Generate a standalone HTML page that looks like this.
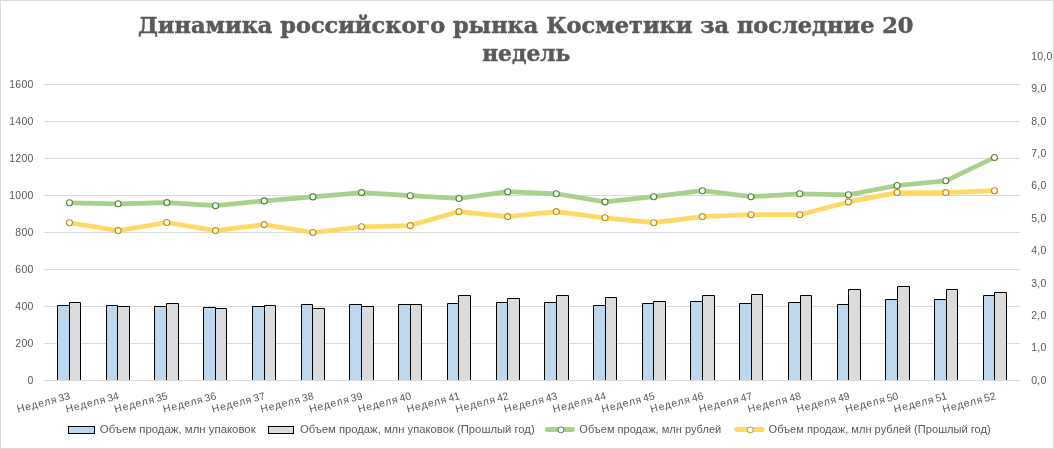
<!DOCTYPE html>
<html lang="ru"><head><meta charset="utf-8">
<title>Динамика российского рынка Косметики</title>
<style>
html,body{margin:0;padding:0;background:#fff;}
body{width:1054px;height:449px;overflow:hidden;}
svg{display:block;}
.ax{font-family:"Liberation Sans", "DejaVu Sans", sans-serif;font-size:10.5px;fill:#595959;filter:grayscale(1);}
.ttl{font-family:"DejaVu Serif", "Liberation Serif", serif;font-weight:bold;font-size:22.5px;fill:#595959;stroke:#595959;stroke-width:0.5px;stroke-linejoin:round;filter:grayscale(1);}
</style></head><body>
<svg width="1054" height="449" viewBox="0 0 1054 449">
<rect x="0" y="0" width="1054" height="449" fill="#ffffff"/>
<rect x="0.5" y="0.5" width="1053" height="448" fill="none" stroke="#d9d9d9" stroke-width="1"/>
<text class="ttl" x="525.7" y="32.7" text-anchor="middle" textLength="775.6" lengthAdjust="spacingAndGlyphs">Динамика российского рынка Косметики за последние 20</text>
<text class="ttl" x="526.3" y="60.8" text-anchor="middle" textLength="88.2" lengthAdjust="spacingAndGlyphs">недель</text>
<g stroke="#d9d9d9" stroke-width="1" shape-rendering="crispEdges">
<line x1="44.0" y1="343.5" x2="1020.0" y2="343.5"/>
<line x1="44.0" y1="306.5" x2="1020.0" y2="306.5"/>
<line x1="44.0" y1="269.5" x2="1020.0" y2="269.5"/>
<line x1="44.0" y1="232.5" x2="1020.0" y2="232.5"/>
<line x1="44.0" y1="195.5" x2="1020.0" y2="195.5"/>
<line x1="44.0" y1="158.5" x2="1020.0" y2="158.5"/>
<line x1="44.0" y1="121.5" x2="1020.0" y2="121.5"/>
<line x1="44.0" y1="84.5" x2="1020.0" y2="84.5"/>
</g>
<g class="ax" text-anchor="end" letter-spacing="0.25">
<text x="33.6" y="384.3">0</text>
<text x="33.6" y="347.3">200</text>
<text x="33.6" y="310.3">400</text>
<text x="33.6" y="273.3">600</text>
<text x="33.6" y="236.3">800</text>
<text x="33.6" y="199.3">1000</text>
<text x="33.6" y="162.3">1200</text>
<text x="33.6" y="125.3">1400</text>
<text x="33.6" y="88.3">1600</text>
</g>
<g class="ax" text-anchor="start" letter-spacing="0.25">
<text x="1031.2" y="383.8">0,0</text>
<text x="1031.2" y="351.4">1,0</text>
<text x="1031.2" y="319.0">2,0</text>
<text x="1031.2" y="286.6">3,0</text>
<text x="1031.2" y="254.2">4,0</text>
<text x="1031.2" y="221.8">5,0</text>
<text x="1031.2" y="189.4">6,0</text>
<text x="1031.2" y="157.0">7,0</text>
<text x="1031.2" y="124.6">8,0</text>
<text x="1031.2" y="92.2">9,0</text>
<text x="1031.2" y="59.8">10,0</text>
</g>
<g stroke="#000000" stroke-width="1" stroke-linejoin="miter">
<path d="M57.5 380.5V305.5H69.5V380.5" fill="#bdd7ee"/>
<path d="M69.5 380.5V302.5H80.5V380.5" fill="#dbdbdb"/>
<path d="M106.5 380.5V305.5H117.5V380.5" fill="#bdd7ee"/>
<path d="M117.5 380.5V306.5H129.5V380.5" fill="#dbdbdb"/>
<path d="M154.5 380.5V306.5H166.5V380.5" fill="#bdd7ee"/>
<path d="M166.5 380.5V303.5H178.5V380.5" fill="#dbdbdb"/>
<path d="M203.5 380.5V307.5H215.5V380.5" fill="#bdd7ee"/>
<path d="M215.5 380.5V308.5H226.5V380.5" fill="#dbdbdb"/>
<path d="M252.5 380.5V306.5H264.5V380.5" fill="#bdd7ee"/>
<path d="M264.5 380.5V305.5H275.5V380.5" fill="#dbdbdb"/>
<path d="M301.5 380.5V304.5H312.5V380.5" fill="#bdd7ee"/>
<path d="M312.5 380.5V308.5H324.5V380.5" fill="#dbdbdb"/>
<path d="M349.5 380.5V304.5H361.5V380.5" fill="#bdd7ee"/>
<path d="M361.5 380.5V306.5H373.5V380.5" fill="#dbdbdb"/>
<path d="M398.5 380.5V304.5H410.5V380.5" fill="#bdd7ee"/>
<path d="M410.5 380.5V304.5H421.5V380.5" fill="#dbdbdb"/>
<path d="M447.5 380.5V303.5H458.5V380.5" fill="#bdd7ee"/>
<path d="M458.5 380.5V295.5H470.5V380.5" fill="#dbdbdb"/>
<path d="M496.5 380.5V302.5H507.5V380.5" fill="#bdd7ee"/>
<path d="M507.5 380.5V298.5H519.5V380.5" fill="#dbdbdb"/>
<path d="M544.5 380.5V302.5H556.5V380.5" fill="#bdd7ee"/>
<path d="M556.5 380.5V295.5H568.5V380.5" fill="#dbdbdb"/>
<path d="M593.5 380.5V305.5H605.5V380.5" fill="#bdd7ee"/>
<path d="M605.5 380.5V297.5H616.5V380.5" fill="#dbdbdb"/>
<path d="M642.5 380.5V303.5H653.5V380.5" fill="#bdd7ee"/>
<path d="M653.5 380.5V301.5H665.5V380.5" fill="#dbdbdb"/>
<path d="M690.5 380.5V301.5H702.5V380.5" fill="#bdd7ee"/>
<path d="M702.5 380.5V295.5H714.5V380.5" fill="#dbdbdb"/>
<path d="M739.5 380.5V303.5H751.5V380.5" fill="#bdd7ee"/>
<path d="M751.5 380.5V294.5H762.5V380.5" fill="#dbdbdb"/>
<path d="M788.5 380.5V302.5H800.5V380.5" fill="#bdd7ee"/>
<path d="M800.5 380.5V295.5H811.5V380.5" fill="#dbdbdb"/>
<path d="M837.5 380.5V304.5H848.5V380.5" fill="#bdd7ee"/>
<path d="M848.5 380.5V289.5H860.5V380.5" fill="#dbdbdb"/>
<path d="M885.5 380.5V299.5H897.5V380.5" fill="#bdd7ee"/>
<path d="M897.5 380.5V286.5H909.5V380.5" fill="#dbdbdb"/>
<path d="M934.5 380.5V299.5H946.5V380.5" fill="#bdd7ee"/>
<path d="M946.5 380.5V289.5H957.5V380.5" fill="#dbdbdb"/>
<path d="M983.5 380.5V295.5H994.5V380.5" fill="#bdd7ee"/>
<path d="M994.5 380.5V292.5H1006.5V380.5" fill="#dbdbdb"/>
</g>
<line x1="44.0" y1="380.5" x2="1020.0" y2="380.5" stroke="#d9d9d9" stroke-width="1" shape-rendering="crispEdges"/>
<polyline points="69.48,222.7 118.16,230.6 166.85,222.5 215.53,230.6 264.22,224.6 312.90,232.5 361.58,226.8 410.27,225.6 458.95,211.6 507.64,216.6 556.32,211.6 605.00,217.8 653.69,222.7 702.37,216.6 751.06,214.7 799.74,214.7 848.42,201.9 897.11,192.6 945.79,192.6 994.48,190.7" fill="none" stroke="#ffd966" stroke-width="4.7" stroke-linejoin="round" stroke-linecap="butt"/>
<g fill="#ffffff" stroke="#bf9000" stroke-width="1.1">
<circle cx="69.48" cy="222.7" r="3"/>
<circle cx="118.16" cy="230.6" r="3"/>
<circle cx="166.85" cy="222.5" r="3"/>
<circle cx="215.53" cy="230.6" r="3"/>
<circle cx="264.22" cy="224.6" r="3"/>
<circle cx="312.90" cy="232.5" r="3"/>
<circle cx="361.58" cy="226.8" r="3"/>
<circle cx="410.27" cy="225.6" r="3"/>
<circle cx="458.95" cy="211.6" r="3"/>
<circle cx="507.64" cy="216.6" r="3"/>
<circle cx="556.32" cy="211.6" r="3"/>
<circle cx="605.00" cy="217.8" r="3"/>
<circle cx="653.69" cy="222.7" r="3"/>
<circle cx="702.37" cy="216.6" r="3"/>
<circle cx="751.06" cy="214.7" r="3"/>
<circle cx="799.74" cy="214.7" r="3"/>
<circle cx="848.42" cy="201.9" r="3"/>
<circle cx="897.11" cy="192.6" r="3"/>
<circle cx="945.79" cy="192.6" r="3"/>
<circle cx="994.48" cy="190.7" r="3"/>
</g>
<polyline points="69.48,202.8 118.16,203.8 166.85,202.6 215.53,205.7 264.22,200.9 312.90,196.9 361.58,192.6 410.27,195.7 458.95,198.5 507.64,191.7 556.32,193.8 605.00,201.9 653.69,196.7 702.37,190.7 751.06,196.7 799.74,193.8 848.42,194.8 897.11,185.5 945.79,180.8 994.48,157.5" fill="none" stroke="#a9d18e" stroke-width="4.7" stroke-linejoin="round" stroke-linecap="butt"/>
<g fill="#ffffff" stroke="#548235" stroke-width="1.1">
<circle cx="69.48" cy="202.8" r="3"/>
<circle cx="118.16" cy="203.8" r="3"/>
<circle cx="166.85" cy="202.6" r="3"/>
<circle cx="215.53" cy="205.7" r="3"/>
<circle cx="264.22" cy="200.9" r="3"/>
<circle cx="312.90" cy="196.9" r="3"/>
<circle cx="361.58" cy="192.6" r="3"/>
<circle cx="410.27" cy="195.7" r="3"/>
<circle cx="458.95" cy="198.5" r="3"/>
<circle cx="507.64" cy="191.7" r="3"/>
<circle cx="556.32" cy="193.8" r="3"/>
<circle cx="605.00" cy="201.9" r="3"/>
<circle cx="653.69" cy="196.7" r="3"/>
<circle cx="702.37" cy="190.7" r="3"/>
<circle cx="751.06" cy="196.7" r="3"/>
<circle cx="799.74" cy="193.8" r="3"/>
<circle cx="848.42" cy="194.8" r="3"/>
<circle cx="897.11" cy="185.5" r="3"/>
<circle cx="945.79" cy="180.8" r="3"/>
<circle cx="994.48" cy="157.5" r="3"/>
</g>
<g class="ax" text-anchor="end">
<text transform="translate(70.75,399.0) rotate(-14.7)"><tspan letter-spacing="0.8">Неделя</tspan><tspan dx="-1.4"> 33</tspan></text>
<text transform="translate(119.47,399.0) rotate(-14.7)"><tspan letter-spacing="0.8">Неделя</tspan><tspan dx="-1.4"> 34</tspan></text>
<text transform="translate(168.19,399.0) rotate(-14.7)"><tspan letter-spacing="0.8">Неделя</tspan><tspan dx="-1.4"> 35</tspan></text>
<text transform="translate(216.91,399.0) rotate(-14.7)"><tspan letter-spacing="0.8">Неделя</tspan><tspan dx="-1.4"> 36</tspan></text>
<text transform="translate(265.63,399.0) rotate(-14.7)"><tspan letter-spacing="0.8">Неделя</tspan><tspan dx="-1.4"> 37</tspan></text>
<text transform="translate(314.35,399.0) rotate(-14.7)"><tspan letter-spacing="0.8">Неделя</tspan><tspan dx="-1.4"> 38</tspan></text>
<text transform="translate(363.07,399.0) rotate(-14.7)"><tspan letter-spacing="0.8">Неделя</tspan><tspan dx="-1.4"> 39</tspan></text>
<text transform="translate(411.79,399.0) rotate(-14.7)"><tspan letter-spacing="0.8">Неделя</tspan><tspan dx="-1.4"> 40</tspan></text>
<text transform="translate(460.51,399.0) rotate(-14.7)"><tspan letter-spacing="0.8">Неделя</tspan><tspan dx="-1.4"> 41</tspan></text>
<text transform="translate(509.23,399.0) rotate(-14.7)"><tspan letter-spacing="0.8">Неделя</tspan><tspan dx="-1.4"> 42</tspan></text>
<text transform="translate(557.95,399.0) rotate(-14.7)"><tspan letter-spacing="0.8">Неделя</tspan><tspan dx="-1.4"> 43</tspan></text>
<text transform="translate(606.67,399.0) rotate(-14.7)"><tspan letter-spacing="0.8">Неделя</tspan><tspan dx="-1.4"> 44</tspan></text>
<text transform="translate(655.39,399.0) rotate(-14.7)"><tspan letter-spacing="0.8">Неделя</tspan><tspan dx="-1.4"> 45</tspan></text>
<text transform="translate(704.11,399.0) rotate(-14.7)"><tspan letter-spacing="0.8">Неделя</tspan><tspan dx="-1.4"> 46</tspan></text>
<text transform="translate(752.83,399.0) rotate(-14.7)"><tspan letter-spacing="0.8">Неделя</tspan><tspan dx="-1.4"> 47</tspan></text>
<text transform="translate(801.55,399.0) rotate(-14.7)"><tspan letter-spacing="0.8">Неделя</tspan><tspan dx="-1.4"> 48</tspan></text>
<text transform="translate(850.27,399.0) rotate(-14.7)"><tspan letter-spacing="0.8">Неделя</tspan><tspan dx="-1.4"> 49</tspan></text>
<text transform="translate(898.99,399.0) rotate(-14.7)"><tspan letter-spacing="0.8">Неделя</tspan><tspan dx="-1.4"> 50</tspan></text>
<text transform="translate(947.71,399.0) rotate(-14.7)"><tspan letter-spacing="0.8">Неделя</tspan><tspan dx="-1.4"> 51</tspan></text>
<text transform="translate(996.43,399.0) rotate(-14.7)"><tspan letter-spacing="0.8">Неделя</tspan><tspan dx="-1.4"> 52</tspan></text>
</g>
<rect x="68.5" y="426.5" width="26" height="7" fill="#bdd7ee" stroke="#000" stroke-width="1"/>
<text class="ax" x="99.8" y="433.2" textLength="155.9" lengthAdjust="spacingAndGlyphs">Объем продаж, млн упаковок</text>
<rect x="268.5" y="426.5" width="25" height="7" fill="#dbdbdb" stroke="#000" stroke-width="1"/>
<text class="ax" x="299.9" y="433.2" textLength="234.8" lengthAdjust="spacingAndGlyphs">Объем продаж, млн упаковок (Прошлый год)</text>
<line x1="547.3" y1="429.55" x2="572.6" y2="429.55" stroke="#a9d18e" stroke-width="4.9" stroke-linecap="round"/>
<circle cx="560.95" cy="429.9" r="3" fill="#fff" stroke="#548235" stroke-width="0.95"/>
<text class="ax" x="579.3" y="433.2" textLength="141.9" lengthAdjust="spacingAndGlyphs">Объем продаж, млн рублей</text>
<line x1="736.6" y1="429.55" x2="762.4" y2="429.55" stroke="#ffd966" stroke-width="4.9" stroke-linecap="round"/>
<circle cx="750.35" cy="429.9" r="3" fill="#fff" stroke="#bf9000" stroke-width="0.95"/>
<text class="ax" x="768.5" y="433.2" textLength="222.2" lengthAdjust="spacingAndGlyphs">Объем продаж, млн рублей (Прошлый год)</text>
</svg>
</body></html>
